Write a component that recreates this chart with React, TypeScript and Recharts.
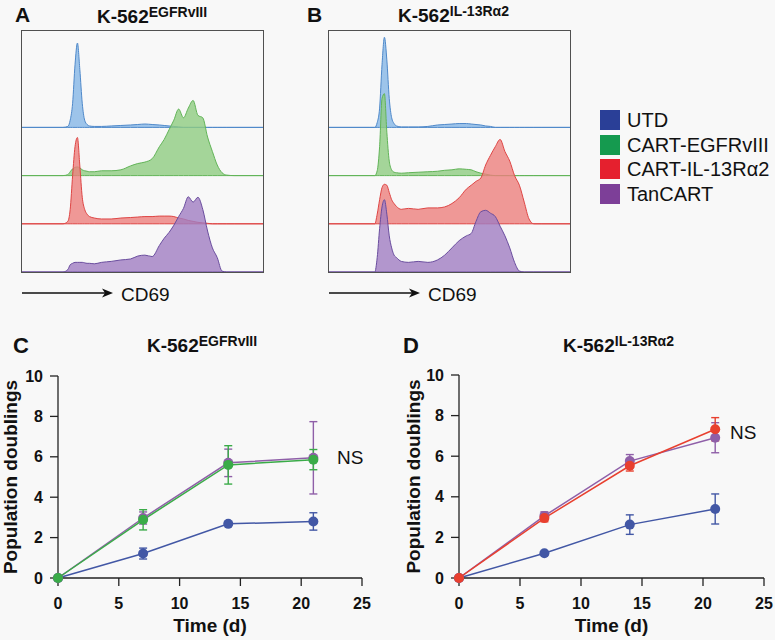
import { Area, AreaChart, ErrorBar, Line, LineChart, XAxis, YAxis } from "recharts";

const FONT = '"Liberation Sans", Arial, Helvetica, sans-serif';

// CD69 histogram bins (arbitrary log-scale units, 0..100 across the box)
const BINS = [0, 17, 19, 20, 21, 22, 23, 24, 25, 26, 27, 28, 30, 33, 37, 41, 45, 48, 51, 54, 57, 59, 61, 63, 65, 67, 69, 71, 73, 75, 77, 79, 81, 83, 85, 88, 100];

// panel A: K-562 EGFRvIII
const A_UTD = [0, 0, 0.02, 0.15, 0.5, 1.3, 1.75, 1.2, 0.5, 0.15, 0.06, 0.03, 0.02, 0.02, 0.03, 0.04, 0.05, 0.06, 0.07, 0.06, 0.05, 0.04, 0.03, 0.02, 0.01, 0, 0, 0, 0, 0, 0, 0, 0, 0, 0, 0, 0];
const A_EGFR = [0, 0, 0.02, 0.08, 0.14, 0.17, 0.18, 0.16, 0.12, 0.1, 0.09, 0.08, 0.08, 0.1, 0.1, 0.12, 0.2, 0.25, 0.28, 0.35, 0.6, 0.75, 0.95, 1.15, 1.38, 1.2, 1.4, 1.56, 1.25, 1.2, 0.8, 0.5, 0.22, 0.06, 0.01, 0, 0];
const A_IL13 = [0, 0, 0.05, 0.3, 1.0, 1.6, 1.79, 1.2, 0.55, 0.3, 0.2, 0.15, 0.12, 0.1, 0.1, 0.12, 0.13, 0.14, 0.15, 0.15, 0.16, 0.16, 0.16, 0.15, 0.12, 0.1, 0.07, 0.05, 0.03, 0.02, 0.01, 0, 0, 0, 0, 0, 0];
const A_TAN = [0, 0, 0.05, 0.15, 0.18, 0.2, 0.2, 0.2, 0.2, 0.19, 0.18, 0.18, 0.17, 0.2, 0.22, 0.25, 0.27, 0.33, 0.35, 0.32, 0.55, 0.7, 0.82, 0.97, 1.15, 1.32, 1.56, 1.45, 1.55, 1.3, 0.85, 0.5, 0.3, 0.02, 0, 0, 0];

// panel B: K-562 IL-13Ra2
const B_UTD = [0, 0, 0, 0.1, 0.4, 1.3, 1.87, 1.4, 0.6, 0.2, 0.08, 0.03, 0.01, 0.01, 0.01, 0.02, 0.05, 0.06, 0.07, 0.08, 0.08, 0.07, 0.06, 0.05, 0.03, 0.02, 0, 0, 0, 0, 0, 0, 0, 0, 0, 0, 0];
const B_EGFR = [0, 0, 0, 0.1, 0.6, 1.6, 1.7, 0.9, 0.3, 0.12, 0.07, 0.06, 0.05, 0.06, 0.07, 0.08, 0.09, 0.11, 0.12, 0.14, 0.13, 0.12, 0.08, 0.05, 0.03, 0.01, 0, 0, 0, 0, 0, 0, 0, 0, 0, 0, 0];
const B_IL13 = [0, 0, 0, 0.2, 0.5, 0.75, 0.82, 0.8, 0.65, 0.5, 0.42, 0.36, 0.3, 0.32, 0.3, 0.33, 0.33, 0.35, 0.42, 0.54, 0.72, 0.8, 0.88, 0.95, 1.22, 1.42, 1.6, 1.75, 1.5, 1.3, 1.0, 0.8, 0.45, 0.1, 0, 0, 0];
const B_TAN = [0, 0, 0, 0.3, 0.9, 1.35, 1.5, 1.2, 0.75, 0.5, 0.35, 0.3, 0.22, 0.2, 0.22, 0.2, 0.25, 0.35, 0.5, 0.65, 0.75, 0.8, 1.05, 1.25, 1.28, 1.22, 1.15, 0.95, 0.75, 0.5, 0.2, 0.02, 0, 0, 0, 0, 0];

// population doublings
const TIME = [0, 7, 14, 21];
const X_TICKS = [0, 5, 10, 15, 20, 25];
const Y_TICKS = [0, 2, 4, 6, 8, 10];

const C_UTD = [0, 1.21, 2.68, 2.8];
const C_UTD_ERR = [0, 0.27, 0.05, 0.43];
const C_EGFR = [0, 2.88, 5.6, 5.86];
const C_EGFR_ERR = [0, 0.5, 0.95, 0.5];
const C_TAN = [0, 2.97, 5.7, 5.95];
const C_TAN_ERR = [0, 0.3, 0.68, 1.79];

const D_UTD = [0, 1.22, 2.63, 3.4];
const D_UTD_ERR = [0, 0.05, 0.48, 0.74];
const D_IL13 = [0, 2.95, 5.53, 7.33];
const D_IL13_ERR = [0, 0.18, 0.26, 0.57];
const D_TAN = [0, 3.06, 5.76, 6.91];
const D_TAN_ERR = [0, 0.2, 0.32, 0.74];

const LEGEND = [
  { name: "UTD", color: "#2A3F97" },
  { name: "CART-EGFRvIII", color: "#159A4F" },
  { name: "CART-IL-13R\u03b12", color: "#E5202E" },
  { name: "TanCART", color: "#7D3F98" },
];

const HIST = {
  utd: { stroke: "#4F89CA", fill: "#86B7E6" },
  egfr: { stroke: "#62B458", fill: "#8ECC81" },
  il13: { stroke: "#DE4544", fill: "#EC807D" },
  tan: { stroke: "#6A4D9E", fill: "#A07DC2" },
};

const LINE = { utd: "#4257A5", egfr: "#3AAB48", il13: "#E8402F", tan: "#8F5FA8" };

const Histogram = ({ left, utd, egfr, il13, tan }: { left: number; utd: number[]; egfr: number[]; il13: number[]; tan: number[] }) => {
  const rows = BINS.map((x, i) => ({
    x,
    utd: [3, 3 + utd[i]],
    egfr: [2, 2 + egfr[i]],
    il13: [1, 1 + il13[i]],
    tan: [0, tan[i]],
  }));
  const keys = ["utd", "egfr", "il13", "tan"] as const;
  return (
    <div style={{ position: "absolute", left: left - 1.5, top: 29.5, width: 241, height: 241, border: "1.5px solid #505050" }}>
      <AreaChart width={241} height={241} data={rows} margin={{ top: 0, right: 0, bottom: 0, left: 0 }}>
        <XAxis dataKey="x" type="number" domain={[0, 100]} hide />
        <YAxis type="number" domain={[0, 5]} hide />
        {keys.map((k) => (
          <Area
            key={k}
            dataKey={k}
            type="monotone"
            stroke={HIST[k].stroke}
            strokeWidth={1}
            fill={HIST[k].fill}
            fillOpacity={0.8}
            dot={false}
            activeDot={false}
            isAnimationActive={false}
          />
        ))}
      </AreaChart>
    </div>
  );
};

const Arrow = ({ left }: { left: number }) => (
  <>
    <svg style={{ position: "absolute", left, top: 287 }} width={94} height={12}>
      <line x1={0} y1={6} x2={86} y2={6} stroke="#111" strokeWidth={1.3} />
      <polygon points="80,1.5 91,6 80,10.5 83,6" fill="#111" />
    </svg>
    <div style={{ position: "absolute", left: left + 99, top: 285, fontSize: 19, lineHeight: "19px" }}>CD69</div>
  </>
);

const Title = ({ left, top, sup }: { left: number; top: number; sup: string }) => (
  <div style={{ position: "absolute", left, top, fontSize: 19, fontWeight: "bold", lineHeight: "19px", whiteSpace: "nowrap" }}>
    K-562<span style={{ fontSize: 14, position: "relative", top: -6 }}>{sup}</span>
  </div>
);

const Letter = ({ left, top, size, text }: { left: number; top: number; size: number; text: string }) => (
  <div style={{ position: "absolute", left, top, fontSize: size, fontWeight: "bold", lineHeight: `${size}px` }}>{text}</div>
);

type Series = { key: string; color: string; values: number[]; errors: number[] };

const GrowthChart = ({ width, top, yAxisWidth, right, labelDx, series }: { width: number; top: number; yAxisWidth: number; right: number; labelDx: number; series: Series[] }) => {
  const data = TIME.map((t, i) => {
    const row: Record<string, number> = { t };
    series.forEach((s) => {
      row[s.key] = s.values[i];
      row[s.key + "Err"] = s.errors[i];
    });
    return row;
  });
  const tick = { fill: "#111", fontSize: 16, fontWeight: "bold", fontFamily: FONT };
  return (
    <LineChart width={width} height={310} data={data} margin={{ top, right, bottom: 0, left: 0 }}>
      <XAxis
        dataKey="t"
        type="number"
        domain={[0, 25]}
        ticks={X_TICKS}
        height={62}
        tickSize={8}
        tickMargin={12}
        axisLine={{ stroke: "#222", strokeWidth: 1.3 }}
        tickLine={{ stroke: "#222", strokeWidth: 1.3 }}
        tick={tick}
        label={{ value: "Time (d)", position: "insideBottom", offset: 8, fill: "#111", fontSize: 19, fontWeight: "bold", fontFamily: FONT }}
      />
      <YAxis
        type="number"
        domain={[0, 10]}
        ticks={Y_TICKS}
        width={yAxisWidth}
        tickSize={8}
        tickMargin={7}
        axisLine={{ stroke: "#222", strokeWidth: 1.3 }}
        tickLine={{ stroke: "#222", strokeWidth: 1.3 }}
        tick={tick}
        label={{ value: "Population doublings", angle: -90, position: "center", dx: labelDx, fill: "#111", fontSize: 19, fontWeight: "bold", fontFamily: FONT }}
      />
      {series.map((s) => (
        <Line
          key={s.key}
          dataKey={s.key}
          stroke={s.color}
          strokeWidth={1.5}
          dot={{ r: 5, fill: s.color, stroke: s.color, strokeWidth: 0 }}
          activeDot={false}
          isAnimationActive={false}
        >
          <ErrorBar dataKey={s.key + "Err"} width={4} stroke={s.color} strokeWidth={1.4} direction="y" />
        </Line>
      ))}
    </LineChart>
  );
};

export default function App() {
  const seriesC: Series[] = [
    { key: "utd", color: LINE.utd, values: C_UTD, errors: C_UTD_ERR },
    { key: "tan", color: LINE.tan, values: C_TAN, errors: C_TAN_ERR },
    { key: "egfr", color: LINE.egfr, values: C_EGFR, errors: C_EGFR_ERR },
  ];
  const seriesD: Series[] = [
    { key: "utd", color: LINE.utd, values: D_UTD, errors: D_UTD_ERR },
    { key: "tan", color: LINE.tan, values: D_TAN, errors: D_TAN_ERR },
    { key: "il13", color: LINE.il13, values: D_IL13, errors: D_IL13_ERR },
  ];
  return (
    <div style={{ position: "absolute", left: 0, top: 0, width: 775, height: 640, background: "#f8f8f8", fontFamily: FONT, color: "#111", overflow: "hidden" }}>
      <Letter left={15} top={4} size={21} text="A" />
      <Letter left={307} top={4} size={21} text="B" />
      <Title left={97} top={7} sup="EGFRvIII" />
      <Title left={398} top={6} sup={"IL-13R\u03b12"} />

      <Histogram left={22} utd={A_UTD} egfr={A_EGFR} il13={A_IL13} tan={A_TAN} />
      <Histogram left={329} utd={B_UTD} egfr={B_EGFR} il13={B_IL13} tan={B_TAN} />
      <Arrow left={22} />
      <Arrow left={329} />

      <div style={{ position: "absolute", left: 600, top: 110 }}>
        {LEGEND.map((l) => (
          <div key={l.name} style={{ display: "flex", alignItems: "center", height: 20, marginBottom: 4.5 }}>
            <div style={{ width: 20, height: 20, background: l.color }} />
            <span style={{ marginLeft: 7, fontSize: 20, lineHeight: "20px" }}>{l.name}</span>
          </div>
        ))}
      </div>

      <Letter left={13} top={335} size={22} text="C" />
      <Letter left={403} top={335} size={22} text="D" />
      <Title left={147} top={336} sup="EGFRvIII" />
      <Title left={563} top={336} sup={"IL-13R\u03b12"} />

      <div style={{ position: "absolute", left: 0, top: 330 }}>
        <GrowthChart width={380} top={46} yAxisWidth={58} right={18} labelDx={-19} series={seriesC} />
      </div>
      <div style={{ position: "absolute", left: 390, top: 330 }}>
        <GrowthChart width={385} top={45} yAxisWidth={69} right={11} labelDx={-11} series={seriesD} />
      </div>
      <div style={{ position: "absolute", left: 337, top: 448, fontSize: 19, lineHeight: "19px" }}>NS</div>
      <div style={{ position: "absolute", left: 730, top: 423, fontSize: 19, lineHeight: "19px" }}>NS</div>
    </div>
  );
}
